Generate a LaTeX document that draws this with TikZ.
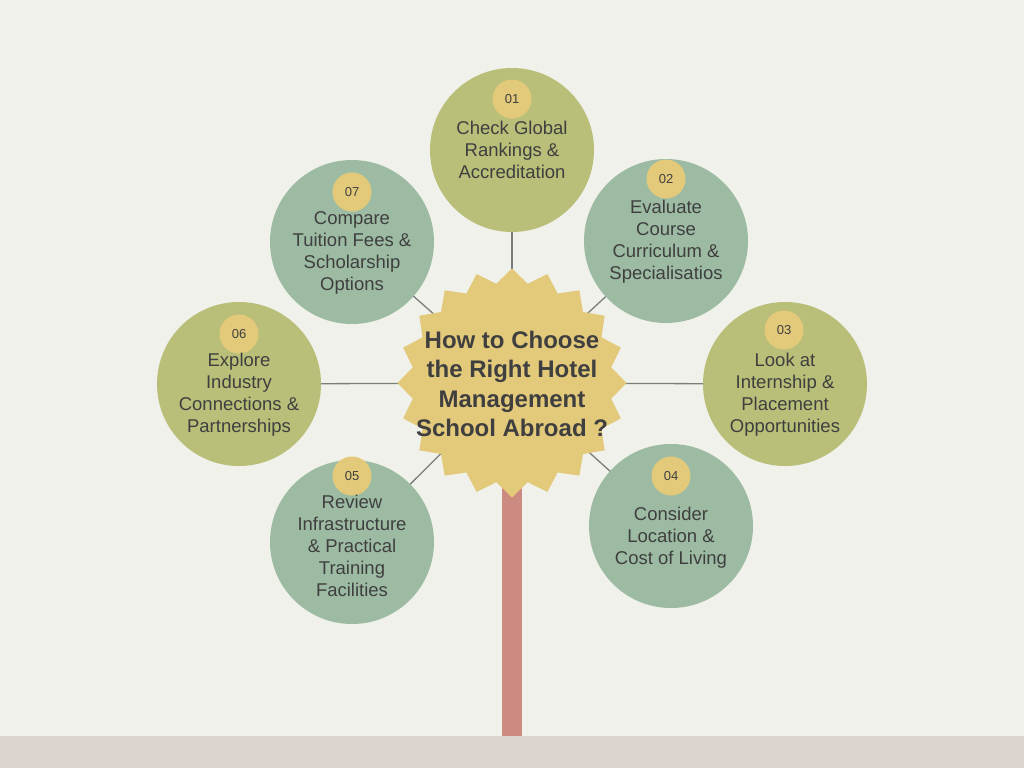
\documentclass[tikz,border=0pt]{standalone}
\usepackage{fontspec}
\setmainfont{Liberation Sans}
\usetikzlibrary{shapes.geometric,backgrounds}
\definecolor{cream}{HTML}{F0F1EA}
\definecolor{ground}{HTML}{DCD5CF}
\definecolor{olive}{HTML}{B9BF78}
\definecolor{sage}{HTML}{9DBBA3}
\definecolor{sun}{HTML}{E3CA7B}
\definecolor{trunk}{HTML}{CC8A80}
\definecolor{ink}{HTML}{3F3F3F}
\definecolor{wire}{HTML}{7C7C7C}
\tikzset{stage/.style={circle,minimum size=164pt,inner sep=0pt,draw=none},badge/.style={circle,minimum size=39pt,inner sep=0pt,fill=sun,text=ink,font=\fontsize{13}{15}\selectfont},stagetext/.style={align=center,text=ink,inner sep=0pt,font=\fontsize{18.5}{22}\selectfont},wireline/.style={draw=wire,line width=1.3pt}}

\begin{document}
\begin{tikzpicture}[x=1pt,y=-1pt]

\begin{scope}[on background layer]
\fill[cream] (0,0) rectangle (1024,768);
\fill[ground] (0,736) rectangle (1024,768);
\end{scope}
\useasboundingbox (0,0) rectangle (1024,768);
\fill[trunk] (502,470) rectangle (522,736);
\node[star,star points=20,star point ratio=1.14,minimum size=229pt,inner sep=0pt,fill=sun] (hub) at (512,383) {};
\node[align=center,text=ink,inner sep=0pt,font=\bfseries\fontsize{24}{29.5}\selectfont] (title) at (512,384) {How to Choose\\the Right Hotel\\Management\\School Abroad ?};
\node[stage,fill=olive] (c1) at (512,150) {};
\node[stage,fill=sage] (c2) at (666,241) {};
\node[stage,fill=olive] (c3) at (785,384) {};
\node[stage,fill=sage] (c4) at (671,526) {};
\node[stage,fill=sage] (c5) at (352,542) {};
\node[stage,fill=olive] (c6) at (239,384) {};
\node[stage,fill=sage] (c7) at (352,242) {};
\node[badge] (n1) at (512,99) {01};
\node[badge] (n2) at (666,179) {02};
\node[badge] (n3) at (784,330) {03};
\node[badge] (n4) at (671,476) {04};
\node[badge] (n5) at (352,476) {05};
\node[badge] (n6) at (239,334) {06};
\node[badge] (n7) at (352,192) {07};
\node[stagetext] (t1) at (512,150) {Check Global\\Rankings \&\\Accreditation};
\node[stagetext] (t2) at (666,242) {Evaluate\\Course\\Curriculum \&\\Specialisatios};
\node[stagetext] (t3) at (785,395) {Look at\\Internship \&\\Placement\\Opportunities};
\node[stagetext] (t4) at (671,538) {Consider\\Location \&\\Cost of Living};
\node[stagetext] (t5) at (352,546) {Review\\Infrastructure\\\& Practical\\Training\\Facilities};
\node[stagetext] (t6) at (239,395) {Explore\\Industry\\Connections \&\\Partnerships};
\node[stagetext] (t7) at (352,253) {Compare\\Tuition Fees \&\\Scholarship\\Options};
\begin{scope}[on background layer]
\foreach \i in {1,...,7} \draw[wireline] (c\i.center)--(hub.center);
\end{scope}
\end{tikzpicture}
\end{document}
